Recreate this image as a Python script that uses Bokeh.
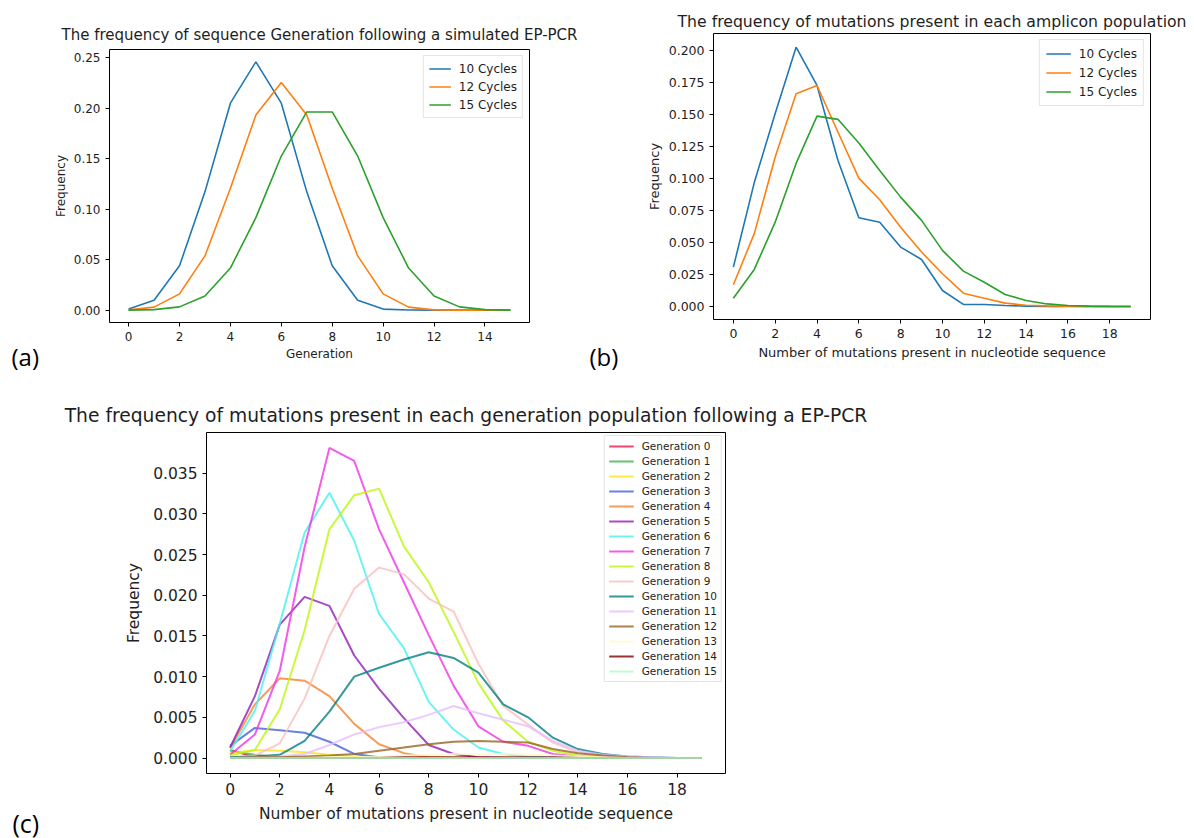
from bokeh.plotting import figure
from bokeh.models import Range1d, FixedTicker, NumeralTickFormatter
from bokeh.core.properties import value
from bokeh.layouts import column, row
from bokeh.embed import file_html
from bokeh.resources import INLINE

# ---------------- data ----------------
gen_x = [0, 1, 2, 3, 4, 5, 6, 7, 8, 9, 10, 11, 12, 13, 14, 15]
gen_10 = [0.0010, 0.0098, 0.0439, 0.1172, 0.2051, 0.2461, 0.2051, 0.1172, 0.0439, 0.0098, 0.0010, 0.0001, 0.0, 0.0, 0.0, 0.0]
gen_12 = [0.0002, 0.0029, 0.0161, 0.0537, 0.1208, 0.1934, 0.2256, 0.1934, 0.1208, 0.0537, 0.0161, 0.0029, 0.0002, 0.0, 0.0, 0.0]
gen_15 = [0.0000, 0.0005, 0.0032, 0.0139, 0.0417, 0.0916, 0.1527, 0.1964, 0.1964, 0.1527, 0.0916, 0.0417, 0.0139, 0.0032, 0.0005, 0.0000]

mut_x = [0, 1, 2, 3, 4, 5, 6, 7, 8, 9, 10, 11, 12, 13, 14, 15, 16, 17, 18, 19]
amp_10 = [0.0308, 0.0970, 0.1510, 0.2030, 0.1730, 0.1145, 0.0695, 0.0660, 0.0465, 0.0368, 0.0125, 0.0016, 0.0015, 0.0008, 0.0003, 0.0001, 0.0, 0.0, 0.0, 0.0]
amp_12 = [0.0170, 0.0570, 0.1170, 0.1666, 0.1730, 0.1366, 0.1005, 0.0836, 0.0620, 0.0426, 0.0256, 0.0104, 0.0065, 0.0026, 0.0010, 0.0005, 0.0002, 0.0001, 0.0, 0.0]
amp_15 = [0.0065, 0.0290, 0.0660, 0.1120, 0.1490, 0.1465, 0.1280, 0.1065, 0.0856, 0.0674, 0.0439, 0.0277, 0.0190, 0.0094, 0.0047, 0.0020, 0.0008, 0.0003, 0.0001, 0.0]

g0 = [0.0010, 0.0001, 0.0, 0.0, 0.0, 0.0, 0.0, 0.0, 0.0, 0.0, 0.0, 0.0, 0.0, 0.0, 0.0, 0.0, 0.0, 0.0, 0.0, 0.0]
g1 = [0.0009, 0.0004, 0.0001, 0.0, 0.0, 0.0, 0.0, 0.0, 0.0, 0.0, 0.0, 0.0, 0.0, 0.0, 0.0, 0.0, 0.0, 0.0, 0.0, 0.0]
g2 = [0.0006, 0.0010, 0.0009, 0.0007, 0.0004, 0.0002, 0.0001, 0.0, 0.0, 0.0, 0.0, 0.0, 0.0, 0.0, 0.0, 0.0, 0.0, 0.0, 0.0, 0.0]
g3 = [0.0015, 0.0037, 0.0034, 0.0031, 0.0020, 0.0005, 0.0001, 0.0, 0.0, 0.0, 0.0, 0.0, 0.0, 0.0, 0.0, 0.0, 0.0, 0.0, 0.0, 0.0]
g4 = [0.0012, 0.0066, 0.0098, 0.0095, 0.0076, 0.0042, 0.0017, 0.0006, 0.0001, 0.0, 0.0, 0.0, 0.0, 0.0, 0.0, 0.0, 0.0, 0.0, 0.0, 0.0]
g5 = [0.0013, 0.0076, 0.0164, 0.0198, 0.0187, 0.0126, 0.0085, 0.0049, 0.0016, 0.0005, 0.0001, 0.0, 0.0, 0.0, 0.0, 0.0, 0.0, 0.0, 0.0, 0.0]
g6 = [0.0008, 0.0058, 0.0165, 0.0277, 0.0326, 0.0267, 0.0177, 0.0135, 0.0069, 0.0035, 0.0013, 0.0005, 0.0002, 0.0001, 0.0, 0.0, 0.0, 0.0, 0.0, 0.0]
g7 = [0.0004, 0.0029, 0.0107, 0.0259, 0.0381, 0.0365, 0.0281, 0.0216, 0.0151, 0.0089, 0.0039, 0.0020, 0.0015, 0.0005, 0.0002, 0.0001, 0.0, 0.0, 0.0, 0.0]
g8 = [0.0003, 0.0010, 0.0060, 0.0157, 0.0281, 0.0323, 0.0331, 0.0260, 0.0216, 0.0155, 0.0092, 0.0046, 0.0020, 0.0009, 0.0003, 0.0001, 0.0, 0.0, 0.0, 0.0]
g9 = [0.0001, 0.0003, 0.0018, 0.0073, 0.0150, 0.0208, 0.0234, 0.0226, 0.0196, 0.0180, 0.0116, 0.0064, 0.0041, 0.0019, 0.0007, 0.0003, 0.0001, 0.0, 0.0, 0.0]
g10 = [0.0001, 0.0002, 0.0004, 0.0021, 0.0057, 0.0100, 0.0111, 0.0121, 0.0130, 0.0123, 0.0105, 0.0066, 0.0050, 0.0025, 0.0011, 0.0005, 0.0002, 0.0001, 0.0, 0.0]
g11 = [0.0, 0.0001, 0.0002, 0.0005, 0.0016, 0.0029, 0.0038, 0.0044, 0.0053, 0.0064, 0.0055, 0.0047, 0.0039, 0.0021, 0.0009, 0.0004, 0.0002, 0.0001, 0.0, 0.0]
g12 = [0.0, 0.0001, 0.0001, 0.0002, 0.0003, 0.0005, 0.0009, 0.0013, 0.0017, 0.0020, 0.0021, 0.0020, 0.0019, 0.0011, 0.0006, 0.0003, 0.0001, 0.0, 0.0, 0.0]
g13 = [0.0, 0.0, 0.0, 0.0, 0.0001, 0.0001, 0.0002, 0.0003, 0.0004, 0.0005, 0.0005, 0.0005, 0.0004, 0.0003, 0.0002, 0.0001, 0.0, 0.0, 0.0, 0.0]
g14 = [0.0, 0.0, 0.0, 0.0, 0.0, 0.0, 0.0, 0.0001, 0.0001, 0.0001, 0.0001, 0.0001, 0.0001, 0.0001, 0.0, 0.0, 0.0, 0.0, 0.0, 0.0]
g15 = [0.0, 0.0, 0.0, 0.0, 0.0, 0.0, 0.0, 0.0, 0.0, 0.0, 0.0, 0.0, 0.0, 0.0, 0.0, 0.0, 0.0, 0.0, 0.0, 0.0]

gen_series = [g0, g1, g2, g3, g4, g5, g6, g7, g8, g9, g10, g11, g12, g13, g14, g15]
gen_labels = ["Generation 0", "Generation 1", "Generation 2", "Generation 3", "Generation 4",
              "Generation 5", "Generation 6", "Generation 7", "Generation 8", "Generation 9",
              "Generation 10", "Generation 11", "Generation 12", "Generation 13", "Generation 14",
              "Generation 15"]
gen_colors = ["#e6194b", "#3cb44b", "#ffe119", "#4363d8", "#f58231", "#911eb4", "#46f0f0", "#f032e6",
              "#bcf60c", "#fabebe", "#008080", "#e6beff", "#9a6324", "#fffac8", "#800000", "#aaffc3"]
cycle_labels = ["10 Cycles", "12 Cycles", "15 Cycles"]
cycle_colors = ["#1f77b4", "#ff7f0e", "#2ca02c"]
panel_letters = ["(a)", "(b)", "(c)"]

FONT = "DejaVu Sans"
TXT = "#1e1e1e"


def style(p, tick_px, label_px, title_px, title_standoff, label_standoff):
    p.outline_line_color = "black"
    p.outline_line_width = 1
    p.xgrid.visible = False
    p.ygrid.visible = False
    p.background_fill_color = "white"
    p.border_fill_color = "white"
    p.title.text_font = FONT
    p.title.text_font_style = "normal"
    p.title.text_font_size = title_px
    p.title.text_color = TXT
    p.title.align = "center"
    p.title.standoff = title_standoff
    for ax in list(p.xaxis) + list(p.yaxis):
        ax.axis_line_color = None
        ax.major_tick_in = 0
        ax.major_tick_out = 4
        ax.major_tick_line_color = "black"
        ax.minor_tick_line_color = None
        ax.major_label_text_font = FONT
        ax.major_label_text_font_size = tick_px
        ax.major_label_text_color = TXT
        ax.axis_label_text_font = FONT
        ax.axis_label_text_font_style = "normal"
        ax.axis_label_text_font_size = label_px
        ax.axis_label_text_color = TXT
        ax.axis_label_standoff = label_standoff
        ax.major_label_standoff = 5


def style_legend(p, font_px, glyph_w, row_h, spacing, margin, padding):
    lg = p.legend[0]
    lg.location = "top_right"
    lg.label_text_font = FONT
    lg.label_text_font_size = font_px
    lg.label_text_color = TXT
    lg.glyph_width = glyph_w
    lg.glyph_height = row_h
    lg.label_height = row_h
    lg.spacing = spacing
    lg.margin = margin
    lg.padding = padding
    lg.label_standoff = 8
    lg.border_line_color = "#cccccc"
    lg.border_line_width = 1
    lg.background_fill_alpha = 0.85


def strip(w, h, text, x, y, size):
    """A blank, axis-free strip that only carries a panel letter (y measured from the top)."""
    s = figure(width=w, height=h, output_backend="svg", toolbar_location=None,
               title=None, x_axis_location=None, y_axis_location=None,
               min_border_left=0, min_border_right=0, min_border_top=0, min_border_bottom=0,
               x_range=Range1d(0, w), y_range=Range1d(0, h))
    s.outline_line_color = None
    s.grid.visible = False
    s.background_fill_color = "white"
    s.border_fill_color = "white"
    s.text(x=[x], y=[h - y], text=[text], text_font=value("Open Sans"),
           text_font_size=value(size), text_color="black",
           text_baseline="alphabetic", text_align="left")
    return s


# ---------------- panel (a) ----------------
pa = figure(width=535, height=375, output_backend="svg", toolbar_location=None,
            min_border_left=58, min_border_right=56, min_border_top=49, min_border_bottom=53,
            title="The frequency of sequence Generation following a simulated EP-PCR",
            x_axis_label="Generation", y_axis_label="Frequency")
pa.x_range = Range1d(-0.75, 15.75)
pa.y_range = Range1d(-0.0123, 0.2583)
for ys, lab, col in zip([gen_10, gen_12, gen_15], cycle_labels, cycle_colors):
    pa.line(gen_x, ys, line_color=col, line_width=1.6, legend_label=lab)
style(pa, "12px", "12px", "15px", 11, 3)
pa.xaxis.ticker = FixedTicker(ticks=[0, 2, 4, 6, 8, 10, 12, 14])
pa.yaxis.ticker = FixedTicker(ticks=[0.0, 0.05, 0.10, 0.15, 0.20, 0.25])
pa.yaxis.formatter = NumeralTickFormatter(format="0.00")
style_legend(pa, "12px", 22, 15, 3, 6, 5)

# ---------------- panel (b) ----------------
pb = figure(width=554, height=375, output_backend="svg", toolbar_location=None,
            min_border_left=73, min_border_right=44, min_border_top=33, min_border_bottom=56,
            title="The frequency of mutations present in each amplicon population",
            x_axis_label="Number of mutations present in nucleotide sequence", y_axis_label="Frequency")
pb.x_range = Range1d(-0.95, 19.95)
pb.y_range = Range1d(-0.0102, 0.2137)
for ys, lab, col in zip([amp_10, amp_12, amp_15], cycle_labels, cycle_colors):
    pb.line(mut_x, ys, line_color=col, line_width=1.6, legend_label=lab)
style(pb, "12.5px", "13px", "15.7px", 6, 4)
pb.xaxis.ticker = FixedTicker(ticks=[0, 2, 4, 6, 8, 10, 12, 14, 16, 18])
pb.yaxis.ticker = FixedTicker(ticks=[0.0, 0.025, 0.05, 0.075, 0.10, 0.125, 0.15, 0.175, 0.20])
pb.yaxis.formatter = NumeralTickFormatter(format="0.000")
style_legend(pb, "12px", 25, 15, 4, 6, 6)

# ---------------- panel (c) ----------------
pc = figure(width=845, height=463, output_backend="svg", toolbar_location=None,
            min_border_left=151, min_border_right=175, min_border_top=57, min_border_bottom=65,
            title="The frequency of mutations present in each generation population following a EP-PCR",
            x_axis_label="Number of mutations present in nucleotide sequence", y_axis_label="Frequency")
pc.x_range = Range1d(-0.95, 19.95)
pc.y_range = Range1d(-0.0019, 0.0400)
for ys, lab, col in zip(gen_series, gen_labels, gen_colors):
    pc.line(mut_x, ys, line_color=col, line_alpha=0.8, line_width=2, legend_label=lab)
style(pc, "15.5px", "15.5px", "18.7px", 13, 7)
pc.xaxis.ticker = FixedTicker(ticks=[0, 2, 4, 6, 8, 10, 12, 14, 16, 18])
pc.yaxis.ticker = FixedTicker(ticks=[0.0, 0.005, 0.010, 0.015, 0.020, 0.025, 0.030, 0.035])
pc.yaxis.formatter = NumeralTickFormatter(format="0.000")
style_legend(pc, "10.5px", 25, 12, 3, 3, 4)

sa = strip(50, 375, panel_letters[0], 11, 356, "24px")
sb = strip(55, 375, panel_letters[1], 4, 356, "24px")
sc = strip(55, 463, panel_letters[2], 12, 447, "25px")

layout = column(row(column(sa), column(pa), column(sb), column(pb)),
                row(column(sc), column(pc)))
open("out.html", "w").write(file_html(layout, INLINE))
